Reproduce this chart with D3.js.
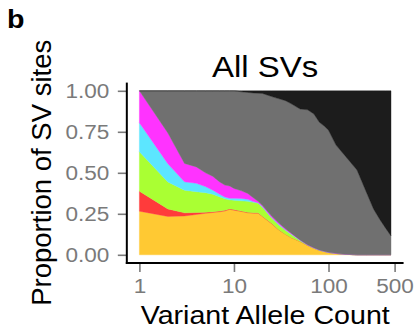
<!DOCTYPE html>
<html>
<head>
<meta charset="utf-8">
<script src="https://cdn.jsdelivr.net/npm/d3@7"></script>
<style>
  body { margin: 0; background: #fff; }
  svg { display: block; font-family: "Liberation Sans", Arial, Helvetica, sans-serif; }
</style>
</head>
<body>
<div id="chart"></div>
<script>
// variant allele count (x) and proportion of SV sites per group, bottom to top
const alleleCounts = [1, 2, 3, 4, 5, 6, 7, 8, 9, 10, 12, 14, 16, 18, 20, 25, 30, 35, 40, 50,
  60, 70, 80, 90, 100, 120, 150, 200, 250, 300, 350, 400, 458];

const afr   = [.266, .234, .237, .246, .253, .258, .262, .267, .277, .272, .264, .256, .254, .254, .233, .190, .150, .125, .105, .081,
  .058, .040, .027, .020, .014, .008, .003, 0, 0, 0, 0, 0, 0];
const amr   = [.122, .046, .019, .012, .006, .005, .005, .005, .004, .004, .003, .003, .003, .002, .002, .002, .001, .001, .001, 0,
  0, 0, 0, 0, 0, 0, 0, 0, 0, 0, 0, 0, 0];
const eas   = [.241, .164, .138, .127, .120, .106, .087, .070, .054, .057, .062, .067, .063, .059, .055, .032, .029, .024, .020, .006,
  .001, .001, .001, .001, 0, 0, 0, 0, 0, 0, 0, 0, 0];
const eur   = [.176, .111, .051, .051, .037, .025, .016, .011, .010, .012, .015, .012, .005, .003, .004, .004, .004, .003, .003, .002,
  .001, .001, .001, 0, .001, 0, 0, 0, 0, 0, 0, 0, 0];
const sas   = [.195, .188, .112, .100, .084, .084, .076, .072, .075, .060, .046, .036, .023, .008, .006, .008, .008, .006, .004, .002,
  .001, .001, .001, .001, 0, .001, 0, 0, 0, 0, 0, 0, 0];
const multi = [0, .257, .443, .464, .500, .522, .554, .575, .580, .595, .604, .616, .639, .659, .684, .729, .759, .781, .789, .798,
  .823, .816, .778, .763, .745, .660, .600, .517, .385, .278, .214, .164, .115];
const all   = [0, 0, 0, 0, 0, 0, 0, 0, 0, 0, .006, .010, .013, .015, .016, .035, .049, .060, .078, .111,
  .116, .141, .192, .215, .240, .331, .397, .483, .615, .722, .786, .836, .885];

const groups = ["AFR", "AMR", "EAS", "EUR", "SAS", "Multi", "All"];
const colors = ["#FFC933", "#FF3B3B", "#AAFF33", "#5CE6FF", "#FF33FF", "#707070", "#1C1C1C"];
const xTicks = [1, 10, 100, 500];
const yTicks = [0, 0.25, 0.5, 0.75, 1];

const width = 414, height = 333;
const stretch = 1.1; // text in the picture is a bit wider than tall
const series = [afr, amr, eas, eur, sas, multi, all];
const rows = alleleCounts.map((c, i) => {
  const r = { count: c };
  groups.forEach((g, k) => r[g] = series[k][i]);
  return r;
});

const x = d3.scaleLog().domain([1, 458]).range([139.4, 391]);
const y = d3.scaleLinear().domain([0, 1]).range([254.8, 90.8]);

// ggplot style 5% expansion of the panel
const xPad = (x.range()[1] - x.range()[0]) * 0.05;
const yPad = (y.range()[0] - y.range()[1]) * 0.05;
const panelLeft = x.range()[0] - xPad, panelRight = x.range()[1] + xPad;
const panelTop = y.range()[1] - yPad, panelBottom = y.range()[0] + yPad;
const midX = (panelLeft + panelRight) / 2;

const svg = d3.select("#chart").append("svg")
  .attr("width", width)
  .attr("height", height);

const stacked = d3.stack().keys(groups)(rows);

const area = d3.area()
  .x(d => x(d.data.count))
  .y0(d => y(d[0]))
  .y1(d => y(d[1]));

svg.append("g")
  .selectAll("path")
  .data(stacked)
  .join("path")
  .attr("fill", (d, i) => colors[i])
  .attr("stroke", (d, i) => colors[i])
  .attr("stroke-width", 0.4)
  .attr("d", area);

const tickColor = "#7a7a7a";

const xAxis = svg.append("g")
  .attr("transform", `translate(0,${panelBottom})`)
  .call(d3.axisBottom(x).tickValues(xTicks).tickFormat(d3.format("d")).tickSize(9).tickPadding(6));
xAxis.select(".domain").remove();
xAxis.selectAll(".tick line").attr("stroke", tickColor).attr("stroke-width", 1.6);
xAxis.selectAll(".tick text").attr("fill", tickColor).style("font-size", "20.5px")
  .style("font-family", "'Liberation Sans', Arial, sans-serif")
  .attr("transform", `scale(${stretch},1)`);

const yAxis = svg.append("g")
  .attr("transform", `translate(${panelLeft},0)`)
  .call(d3.axisLeft(y).tickValues(yTicks).tickFormat(d3.format(".2f")).tickSize(9).tickPadding(8.5));
yAxis.select(".domain").remove();
yAxis.selectAll(".tick line").attr("stroke", tickColor).attr("stroke-width", 1.6);
yAxis.selectAll(".tick text").attr("fill", tickColor).style("font-size", "20.5px")
  .style("font-family", "'Liberation Sans', Arial, sans-serif")
  .attr("transform", `scale(${stretch},1)`)
  .attr("x", -17.5 / stretch);

// axis lines
svg.append("line")
  .attr("x1", panelLeft).attr("x2", panelLeft)
  .attr("y1", panelTop).attr("y2", panelBottom + 1)
  .attr("stroke", "#000").attr("stroke-width", 2);
svg.append("line")
  .attr("x1", panelLeft - 1).attr("x2", panelRight)
  .attr("y1", panelBottom).attr("y2", panelBottom)
  .attr("stroke", "#000").attr("stroke-width", 2);

svg.append("text")
  .attr("transform", `translate(${midX},77) scale(${stretch},1)`)
  .attr("text-anchor", "middle")
  .style("font-size", "30px")
  .text("All SVs");

svg.append("text")
  .attr("transform", `translate(${midX},324) scale(${stretch},1)`)
  .attr("text-anchor", "middle")
  .style("font-size", "26px")
  .text("Variant Allele Count");

svg.append("text")
  .attr("transform", `translate(51,${(panelTop + panelBottom) / 2}) rotate(-90)`)
  .attr("text-anchor", "middle")
  .style("font-size", "27.5px")
  .text("Proportion of SV sites");

svg.append("text")
  .attr("transform", `translate(7,28) scale(${stretch},1)`)
  .style("font-size", "26px")
  .style("font-weight", "bold")
  .text("b");
</script>
</body>
</html>
